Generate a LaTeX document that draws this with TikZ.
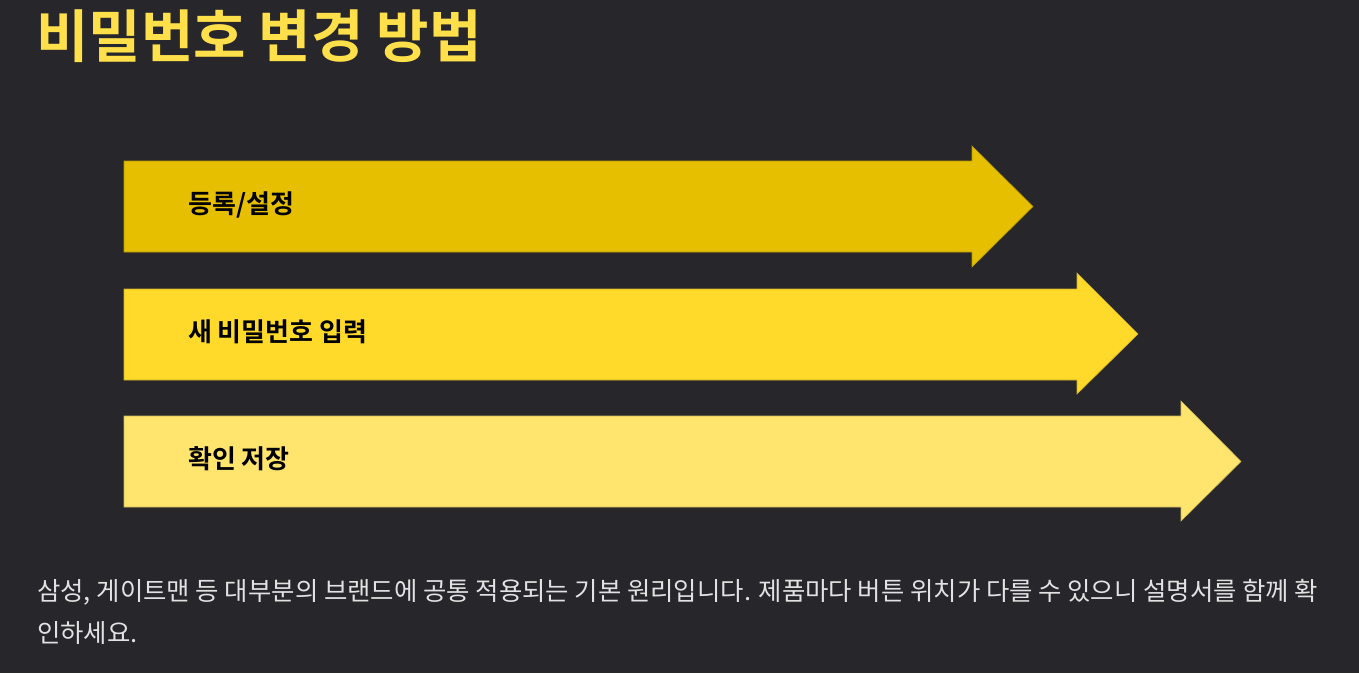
\documentclass[tikz,border=0pt]{standalone}
\usepackage{fontspec}
\setmainfont{Noto Sans CJK KR}
\newfontfamily\kr{Noto Sans CJK KR}
\newfontfamily\krb{Noto Sans CJK KR Bold}
\definecolor{bg}{HTML}{26262B}
\definecolor{aone}{HTML}{E5BF00}
\definecolor{atwo}{HTML}{FFDA2A}
\definecolor{athree}{HTML}{FFE56E}
\definecolor{titlecol}{HTML}{FFE04B}
\definecolor{bodycol}{HTML}{E2E2E2}
\begin{document}
\begin{tikzpicture}[x=1pt,y=-1pt,
  arrowshape/.style={draw=#1!80!black, line width=0.6pt},
  label/.style={anchor=west, inner sep=0pt, font=\krb\fontsize{26}{30}\selectfont, text=black},
  body/.style={anchor=west, inner sep=0pt, font=\kr\fontsize{25.4}{30}\selectfont, text=bodycol}]
\useasboundingbox (0,0) rectangle (1359,673);
\fill[bg] (0,0) rectangle (1359,673);
\node[anchor=west, inner sep=0pt, font=\krb\fontsize{57}{62}\selectfont, text=titlecol] (title) at (36,36) {비밀번호 변경 방법};
% arrows
\fill[aone, arrowshape=aone] (124,161) -- (972,161) -- (972,146) -- (1033,206.5) -- (972,267) -- (972,252) -- (124,252) -- cycle;
\fill[atwo, arrowshape=atwo] (124,289) -- (1077,289) -- (1077,273) -- (1138,334) -- (1077,394) -- (1077,380) -- (124,380) -- cycle;
\fill[athree, arrowshape=athree] (124,416) -- (1181,416) -- (1181,401) -- (1241,461.5) -- (1181,521) -- (1181,507) -- (124,507) -- cycle;
\node[label] (l1) at (188,205) {등록/설정};
\node[label] (l2) at (188,332) {새 비밀번호 입력};
\node[label] (l3) at (188,459) {확인 저장};
\node[body] (b1) at (37,592) {삼성, 게이트맨 등 대부분의 브랜드에 공통 적용되는 기본 원리입니다. 제품마다 버튼 위치가 다를 수 있으니 설명서를 함께 확};
\node[body] (b2) at (37,633) {인하세요.};
\end{tikzpicture}
\end{document}
